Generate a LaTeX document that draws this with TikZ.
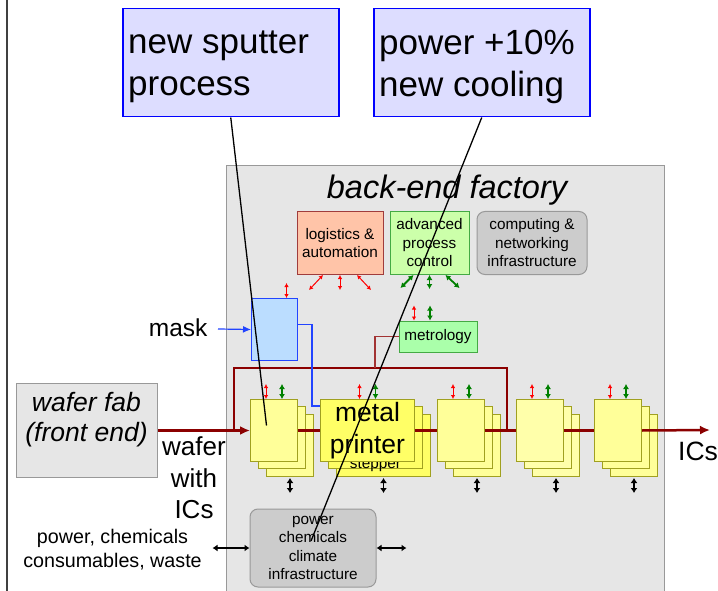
\documentclass[tikz,border=0pt]{standalone}
\usepackage{fontspec}
\setmainfont{Liberation Sans}
\usetikzlibrary{arrows.meta}

\definecolor{ideafill}{HTML}{DDDDFF}
\definecolor{hallgray}{HTML}{E6E6E6}
\definecolor{hallline}{HTML}{999999}
\definecolor{logfill}{HTML}{FFC4A8}
\definecolor{logline}{HTML}{A03C3C}
\definecolor{apcfill}{HTML}{CCFFAA}
\definecolor{apcline}{HTML}{44AA44}
\definecolor{metrofill}{HTML}{AAFFAA}
\definecolor{infrafill}{HTML}{CCCCCC}
\definecolor{maskfill}{HTML}{BBDDFF}
\definecolor{maskblue}{HTML}{2244FF}
\definecolor{machfill}{HTML}{FFFF99}
\definecolor{machhi}{HTML}{FFFF66}
\definecolor{machlo}{HTML}{FFFFAA}
\definecolor{machline}{HTML}{A0A020}
\definecolor{flow}{HTML}{8B0000}
\definecolor{ctrlgreen}{HTML}{008000}

\newcommand{\smalltext}{\fontsize{15.3}{18.5}\selectfont}

\tikzset{
  idea/.style={draw=blue, fill=ideafill, line width=1.5pt, anchor=north west,
    minimum width=216pt, minimum height=108pt},
  ideatext/.style={anchor=west, inner sep=0pt, align=left, font=\fontsize{35}{42}\selectfont},
  hall/.style={draw=hallline, fill=hallgray, line width=1pt, anchor=north west, inner sep=0pt},
  unit/.style={draw, line width=1pt, minimum height=63pt, inner sep=1pt, align=center, font=\smalltext},
  logbox/.style={unit, draw=logline, fill=logfill, minimum width=86pt},
  apcbox/.style={unit, draw=apcline, fill=apcfill, minimum width=79pt},
  infrabox/.style={unit, draw=hallline, fill=infrafill, rounded corners=8pt},
  sheet/.style={draw=machline, line width=1pt, minimum height=62pt, inner sep=0pt, anchor=north west},
  bigtext/.style={align=center, font=\fontsize{26.5}{31.5}\selectfont},
  flowline/.style={draw=flow, line width=2.5pt},
  redarr/.style={red, line width=1pt, {Latex[length=4pt,width=4.5pt]}-{Latex[length=4pt,width=4.5pt]}},
  greenarr/.style={ctrlgreen, line width=1.8pt, {Latex[length=5pt,width=6pt]}-{Latex[length=5pt,width=6pt]}},
  blackarr/.style={black, line width=1.8pt, {Latex[length=5pt,width=7pt]}-{Latex[length=5pt,width=7pt]}},
  hint/.style={black, line width=1.3pt}
}

\begin{document}
\begin{tikzpicture}[x=1pt,y=-1pt]
\useasboundingbox (0,0) rectangle (718,591);
\clip (0,0) rectangle (718,591);

% frame edge
\draw[black!75, line width=1.5pt] (7,0) -- (7,591);

% the factory
\node[hall, minimum width=438pt, minimum height=440pt] (factory) at (226,165) {};
\node[font=\fontsize{32.5}{36}\selectfont\itshape] (title) at (447,190) {back-end factory};

\node[logbox] (logistics) at (340,243) {logistics \&\\automation};
\node[apcbox] (apc) at (429.5,243) {advanced\\process\\control};
\node[infrabox, minimum width=110pt] (computing) at (532,243) {computing \&\\networking\\infrastructure};

\draw[redarr] ([xshift=-17pt]logistics.south) -- ++(-14,15);
\draw[redarr] (logistics.south) -- ++(0,15);
\draw[redarr] ([xshift=17pt]logistics.south) -- ++(14,15);
\draw[greenarr] ([xshift=-16pt]apc.south) -- ++(-13,13);
\draw[greenarr] (apc.south) -- ++(0,14);
\draw[greenarr] ([xshift=16pt]apc.south) -- ++(14,13);

% mask and metrology
\node[draw=maskblue, fill=maskfill, line width=1pt, anchor=north west,
  minimum width=46pt, minimum height=62pt] (mask) at (251,298) {};
\draw[redarr] ([xshift=12pt]mask.north) -- ++(0,-15);
\node[font=\fontsize{24.5}{28}\selectfont, anchor=east] (masklabel) at (211,328) {mask};
\draw[maskblue, line width=1.2pt, -{Latex[length=8pt,width=7pt]}] (masklabel.east) ++(7,1) coordinate (maskin) (maskin) -- (mask.west);

\node[unit, draw=apcline, fill=metrofill, minimum width=78pt, minimum height=31pt] (metrology) at (438,336.5) {metrology};
\draw[redarr] ([xshift=-24pt]metrology.north) -- ++(0,-15);
\draw[greenarr] ([xshift=-8pt]metrology.north) -- ++(0,-15);

% feedback loop over the line
\coordinate (loopin) at (234,430);
\coordinate (loopout) at (507,430);
\coordinate (looptop) at (375,368);
\draw[flowline] (loopin) |- (looptop) -| (loopout);
\draw[flow!80!white, line width=1.2pt] (metrology.west) -| (looptop);

% machines, three sheets each
\foreach \n/\x/\w/\c/\t/\s in {m1/250/47/machfill/{}/{},
    m2/320/94/machhi/{metal\\printer}/{stepper},
    m3/437/47/machfill/{}/{}, m4/516/47/machlo/{}/{}, m5/594/47/machfill/{}/{}} {
  \node[sheet, fill=\c, minimum width=\w pt] (\n b3) at (\x+16,414) {};
  \node[sheet, fill=\c, minimum width=\w pt] (\n b2) at (\x+8,406) {};
  \node[font=\smalltext, anchor=base, inner sep=0pt] (\n s) at ([yshift=0.5pt]\n b2.south) {\s};
  \node[sheet, fill=\c, minimum width=\w pt, bigtext] (\n) at (\x,399) {\t};
  \draw[redarr] ([xshift=-8pt]\n.north) -- ++(0,-15);
  \draw[greenarr] ([xshift=8pt]\n.north) -- ++(0,-15);
  \draw[blackarr] ([yshift=-1pt]\n b3.south) -- ++(0,15);
}

% mask goes to the printer
\draw[maskblue, line width=1.2pt] ([yshift=5pt]mask.east) -| ([xshift=-8pt,yshift=-7pt]m2.north west) -- ([yshift=-7pt]m2.north west);

% wafer flow
\node[hall, minimum width=141pt, minimum height=94pt] (fab) at (16,383) {};
\node[bigtext, font=\fontsize{26.5}{30}\selectfont\itshape] (fabtext) at (86.5,420) {wafer fab\\(front end)};
\draw[flowline, -{Latex[length=10pt,width=9pt]}] (fab.east) -- (m1.west);
\draw[flowline] (m1.east) -- (m2.west);
\draw[flowline] (m2.east) -- (m3.west);
\draw[flowline] (m3.east) -- (m4.west);
\draw[flowline] (m4.east) -- (m5.west);
\coordinate (out) at (710,430);
\draw[flowline, -{Latex[length=10pt,width=9pt]}] (m5.east) -- (out);
\node[font=\fontsize{26.5}{30}\selectfont, anchor=base west, inner sep=0pt] (ics) at (678,460) {ICs};
\node[bigtext, font=\fontsize{26}{31.5}\selectfont] (waferlabel) at (194,478) {wafer\\with\\ICs};

% utilities
\node[infrabox, minimum width=126pt, minimum height=78pt] (infra) at (313,548) {power\\chemicals\\climate\\infrastructure};
\node[align=center, font=\fontsize{19.7}{24}\selectfont] (supply) at (112.5,550) {power, chemicals\\consumables, waste};
\draw[blackarr] (infra.west) -- ++(-37,0);
\draw[blackarr] (infra.east) -- ++(30,0);

% the changes
\node[idea] (sputter) at (122,8) {};
\node[ideatext] (sputtertext) at (128,67) {new sputter\\process};
\node[idea] (cooling) at (373,8) {};
\node[ideatext] (coolingtext) at (379,67) {power +10\%\\new cooling};
\draw[hint] (sputter.south) -- ([xshift=-7.5pt,yshift=5pt]m1.center);
\draw[hint] (cooling.south) -- ([xshift=-2pt,yshift=7pt]infra.center);

\end{tikzpicture}
\end{document}
